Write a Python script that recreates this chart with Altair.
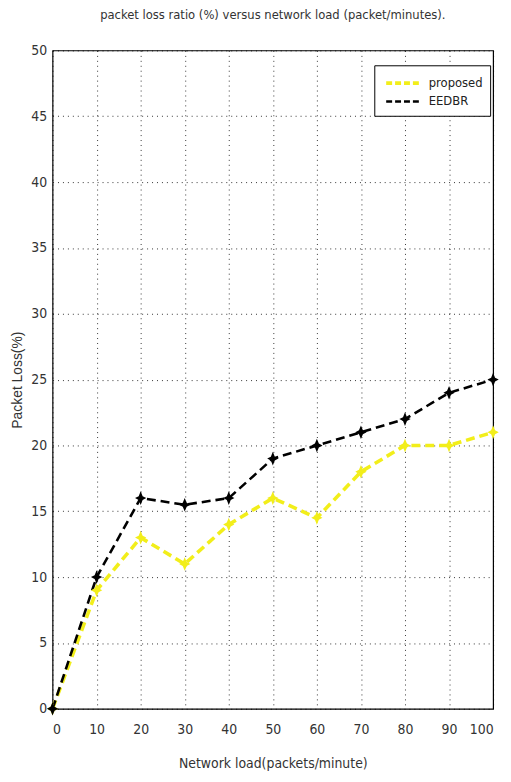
import altair as alt
import pandas as pd

loads = [0, 10, 20, 30, 40, 50, 60, 70, 80, 90, 100]
proposed = [0, 9, 13, 11, 14, 16, 14.5, 18, 20, 20, 21]
eedbr = [0, 10, 16, 15.5, 16, 19, 20, 21, 22, 24, 25]
series_names = ["proposed", "EEDBR"]
series_colors = ["#f2ee1a", "#000000"]
series_widths = [3.6, 2.6]

rows = []
for name, vals in zip(series_names, [proposed, eedbr]):
    for x, y in zip(loads, vals):
        rows.append({"load": x, "loss": y, "series": name})
df = pd.DataFrame(rows)

FONT = "DejaVu Sans Condensed, Liberation Sans Narrow, Liberation Sans, sans-serif"
STAR = "M0,-1.2L0.35,-0.35L1,0L0.35,0.35L0,1.2L-0.35,0.35L-1,0L-0.35,-0.35Z"

color = alt.Color(
    "series:N",
    scale=alt.Scale(domain=series_names, range=series_colors),
    legend=alt.Legend(
        title=None, orient="none", legendX=325, legendY=15,
        strokeColor="black", fillColor="white", padding=7,
        symbolType="M-2,0L2,0", symbolDash=[6, 3], symbolStrokeWidth=2.6,
        symbolSize=324, symbolOffset=12, labelOffset=14,
        labelFont=FONT, labelFontSize=13, labelColor="#222",
        rowPadding=0,
    ),
)

x = alt.X("load:Q", scale=alt.Scale(domain=[0, 100], nice=False),
          axis=alt.Axis(values=loads, title="Network load(packets/minute)"))
y = alt.Y("loss:Q", scale=alt.Scale(domain=[0, 50], nice=False),
          axis=alt.Axis(values=list(range(0, 51, 5)), title="Packet Loss(%)"))

line = alt.Chart(df).mark_line(strokeDash=[9, 5]).encode(
    x=x, y=y, color=color,
    strokeWidth=alt.StrokeWidth("series:N", scale=alt.Scale(domain=series_names, range=series_widths), legend=None))
pts = alt.Chart(df).mark_point(shape=STAR, filled=True, size=130, opacity=1).encode(
    x="load:Q", y="loss:Q",
    color=alt.Color("series:N", scale=alt.Scale(domain=series_names, range=series_colors), legend=None))

chart = alt.layer(line, pts).properties(
    width=445, height=665,
    autosize="none",
    background="white",
    padding={"left": 45, "top": 39, "right": 10, "bottom": 62},
    title=alt.Title("packet loss ratio (%) versus network load (packet/minutes).",
                    font=FONT, fontSize=13, fontWeight="normal", color="#333",
                    anchor="middle", offset=22),
).configure_view(stroke="black", strokeWidth=1.2).configure_axis(
    grid=True, gridColor="black", gridDash=[1, 4], gridOpacity=0.8, gridWidth=1,
    domain=False, ticks=False,
    labelFont=FONT, labelFontSize=14, labelColor="#333", labelPadding=6,
    titleFont=FONT, titleFontSize=14, titleFontWeight="normal", titleColor="#333",
).configure_axisX(labelPadding=14, titlePadding=20).configure_axisY(
    titleFont="Liberation Sans", titleFontSize=14, titlePadding=6,
)

chart.save("out.html", embed_options={"renderer": "svg", "actions": False})
